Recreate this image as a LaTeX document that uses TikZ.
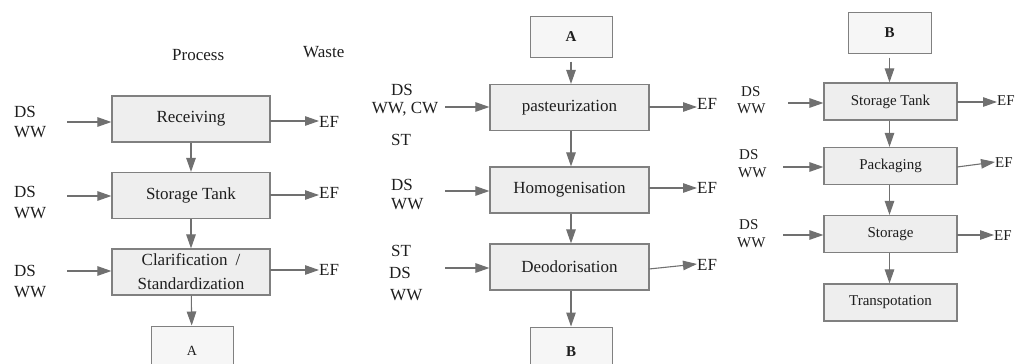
\documentclass[tikz,border=0pt]{standalone}
\usepackage{fontspec}
\setmainfont{Liberation Serif}
\usetikzlibrary{arrows.meta}
\definecolor{boxfill}{HTML}{EEEEEE}
\definecolor{boxline}{HTML}{808080}
\definecolor{flow}{HTML}{707070}
\definecolor{ink}{HTML}{1E1E1E}
\tikzset{
  stage/.style={draw=boxline, fill=boxfill, line width=1.2pt, inner sep=0pt,
    text=ink, align=center},
  bigstage/.style={stage, minimum width=158pt, minimum height=46pt, font=\fontsize{17}{20}\selectfont},
  smallstage/.style={stage, minimum width=133pt, minimum height=37pt, font=\fontsize{15}{18}\selectfont},
  linkbox/.style={draw=boxline, fill=boxfill!55!white, line width=1pt, inner sep=0pt,
    minimum width=82pt, minimum height=41pt, text=ink},
  lbl/.style={inner sep=0pt, text=ink, font=\fontsize{17}{20}\selectfont},
  slbl/.style={inner sep=0pt, text=ink, font=\fontsize{15}{18}\selectfont},
  flowline/.style={draw=flow, line width=1.1pt,
    -{Triangle[length=14pt,width=9.5pt]}},
}
\begin{document}
\begin{tikzpicture}[x=1pt,y=-1pt]
\useasboundingbox (0,0) rectangle (1018,364);

% ---------------- first column ----------------
\node[lbl, anchor=west] (hproc) at (172,55) {Process};
\node[lbl, anchor=west] (hwaste) at (303,52) {Waste};

\node[bigstage] (rec) at (191,119) {Receiving};
\node[bigstage] (st1) at (191,195.5) {Storage Tank};
\node[bigstage] (cla) at (191,272) {Clarification\hspace{8pt}/\\[4pt]Standardization};
\node[linkbox, minimum height=50pt, font=\fontsize{14}{16}\selectfont] (la) at (192,351) {A};

\draw[flowline] (rec) -- (st1);
\draw[flowline] (st1) -- (cla);
\draw[flowline] (cla) -- (la);

\node[lbl, anchor=west] (ds1) at (14,112) {DS};
\node[lbl, anchor=west] (ww1) at (14,132) {WW};
\node[lbl, anchor=west] (ds2) at (14,192) {DS};
\node[lbl, anchor=west] (ww2) at (14,213) {WW};
\node[lbl, anchor=west] (ds3) at (14,271) {DS};
\node[lbl, anchor=west] (ww3) at (14,292) {WW};

\coordinate (in1) at (67,122);
\coordinate (in2) at (67,196);
\coordinate (in3) at (67,271);
\draw[flowline] (in1) -- (in1 -| rec.west);
\draw[flowline] (in2) -- (in2 -| st1.west);
\draw[flowline] (in3) -- (in3 -| cla.west);

\node[lbl, anchor=west] (ef1) at (319,122) {EF};
\node[lbl, anchor=west] (ef2) at (319,193) {EF};
\node[lbl, anchor=west] (ef3) at (319,270) {EF};
\coordinate (o1) at (270,121);
\coordinate (o2) at (270,195);
\coordinate (o3) at (270,270);
\draw[flowline] (o1) -- (ef1.west |- o1);
\draw[flowline] (o2) -- (ef2.west |- o2);
\draw[flowline] (o3) -- (ef3.west |- o3);

% ---------------- second column ----------------
\node[linkbox, font=\bfseries\fontsize{15}{18}\selectfont] (ma) at (571,36.5) {A};
\node[bigstage, minimum width=159pt] (pas) at (569.5,107.5) {pasteurization};
\node[bigstage, minimum width=159pt] (hom) at (569.5,190) {Homogenisation};
\node[bigstage, minimum width=159pt] (deo) at (569.5,267) {Deodorisation};
\node[linkbox, minimum height=50pt, font=\bfseries\fontsize{15}{18}\selectfont] (mb) at (571,352) {B};

\draw[flowline, shorten <=4pt] (ma) -- (ma |- pas.north);
\draw[flowline] (ma |- pas.south) -- (ma |- hom.north);
\draw[flowline] (ma |- hom.south) -- (ma |- deo.north);
\draw[flowline] (ma |- deo.south) -- (ma |- mb.north);

\node[lbl] (ds4) at (402,90) {DS};
\node[lbl] (ww4) at (405,109.5) {WW, CW};
\node[lbl] (st4) at (401,140) {ST};
\node[lbl, anchor=west] (ds5) at (391,185) {DS};
\node[lbl, anchor=west] (ww5) at (391,204) {WW};
\node[lbl, anchor=west] (st6) at (391,251) {ST};
\node[lbl, anchor=west] (ds6) at (389,273) {DS};
\node[lbl, anchor=west] (ww6) at (390,295) {WW};

\coordinate (in4) at (445,107);
\coordinate (in5) at (445,191);
\coordinate (in6) at (445,268);
\draw[flowline] (in4) -- (in4 -| pas.west);
\draw[flowline] (in5) -- (in5 -| hom.west);
\draw[flowline] (in6) -- (in6 -| deo.west);

\node[lbl, anchor=west] (ef4) at (697,104) {EF};
\node[lbl, anchor=west] (ef5) at (697,188) {EF};
\node[lbl, anchor=west] (ef6) at (697,265) {EF};
\coordinate (o4) at (649,107);
\coordinate (o5) at (649,188);
\coordinate (o6) at (649,269);
\draw[flowline] (o4) -- (ef4.west |- o4);
\draw[flowline] (o5) -- (ef5.west |- o5);
\draw[flowline] (o6) -- ([yshift=1pt]ef6.west);

% ---------------- third column ----------------
\node[linkbox, minimum width=83pt, font=\bfseries\fontsize{15}{18}\selectfont] (rb) at (889.5,32.5) {B};
\node[smallstage] (st2) at (890.5,101.5) {Storage Tank};
\node[smallstage] (pac) at (890.5,166) {Packaging};
\node[smallstage] (sto) at (890.5,234) {Storage};
\node[smallstage] (tra) at (890.5,302.5) {Transpotation};

\draw[flowline, shorten <=4pt] (rb) -- (rb |- st2.north);
\draw[flowline] (rb |- st2.south) -- (rb |- pac.north);
\draw[flowline] (rb |- pac.south) -- (rb |- sto.north);
\draw[flowline] (rb |- sto.south) -- (rb |- tra.north);

\node[slbl, anchor=west] (ds7) at (741,92) {DS};
\node[slbl, anchor=west] (ww7) at (737,109) {WW};
\node[slbl, anchor=west] (ds8) at (739,155) {DS};
\node[slbl, anchor=west] (ww8) at (738,173) {WW};
\node[slbl, anchor=west] (ds9) at (739,225) {DS};
\node[slbl, anchor=west] (ww9) at (737,243) {WW};

\coordinate (in7) at (788,103);
\coordinate (in8) at (783,167);
\coordinate (in9) at (783,235);
\draw[flowline] (in7) -- (in7 -| st2.west);
\draw[flowline] (in8) -- (in8 -| pac.west);
\draw[flowline] (in9) -- (in9 -| sto.west);

\node[slbl, anchor=west] (ef7) at (997,101) {EF};
\node[slbl, anchor=west] (ef8) at (995,163) {EF};
\node[slbl, anchor=west] (ef9) at (994,236) {EF};
\coordinate (o7) at (957,102);
\coordinate (o8) at (957,167);
\coordinate (o9) at (957,235);
\draw[flowline] (o7) -- (ef7.west |- o7);
\draw[flowline] (o8) -- ([yshift=1pt]ef8.west);
\draw[flowline] (o9) -- (ef9.west |- o9);
\end{tikzpicture}
\end{document}
